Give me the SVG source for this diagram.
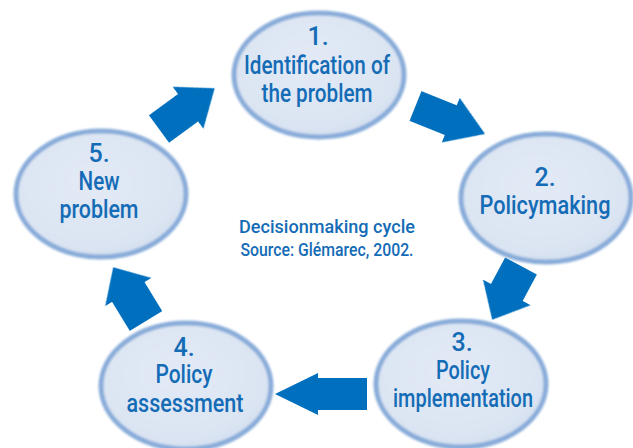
<svg xmlns="http://www.w3.org/2000/svg" width="633" height="448" viewBox="0 0 633 448">
<defs>
<filter id="soft" x="-20%" y="-20%" width="140%" height="140%"><feGaussianBlur stdDeviation="1.2"/></filter>
<filter id="softA" x="-20%" y="-20%" width="140%" height="140%"><feGaussianBlur stdDeviation="0.7"/></filter>
<radialGradient id="fillG" cx="0.45" cy="0.4" r="0.65">
<stop offset="0" stop-color="#e3eaf6"/>
<stop offset="0.8" stop-color="#dbe4f2"/>
<stop offset="1" stop-color="#cfdcef"/>
</radialGradient>
</defs>
<style>
.ring{fill:url(#fillG);stroke:#88acd9;stroke-width:5;filter:url(#soft)}
.lbl{font-family:Roboto,"Liberation Sans",sans-serif;font-weight:500;font-size:25px;fill:#146cb6;text-anchor:middle}
.cap{font-family:Roboto,"Liberation Sans",sans-serif;font-weight:500;font-size:18px;fill:#146cb6;text-anchor:middle}
.arr{fill:#0670be;filter:url(#softA)}
</style>
<rect width="633" height="448" fill="#ffffff"/>
<g id="connectors">
<path class="arr" transform="translate(159,129) rotate(-36.2)" d="M0,-17 L36,-17 L36,-26 L69,0 L36,26 L36,17 L0,17 Z"/>
<path class="arr" transform="translate(415.5,106) rotate(21.9)" d="M0,-16 L38,-16 L38,-24 L75,0 L38,24 L38,16 L0,16 Z"/>
<path class="arr" transform="translate(521,266) rotate(118.2)" d="M0,-18 L30,-18 L30,-27 L61,0 L30,27 L30,18 L0,18 Z"/>
<path class="arr" transform="translate(367,394) rotate(180)" d="M0,-16 L49,-16 L49,-21 L92,0 L49,21 L49,16 L0,16 Z"/>
<path class="arr" transform="translate(146,321) rotate(-121.4)" d="M0,-19 L34,-19 L34,-27 L63,0 L34,27 L34,19 L0,19 Z"/>
</g>
<g id="node1">
<ellipse class="ring" cx="319" cy="75" rx="85" ry="62"/>
<text class="lbl" x="318" y="45">1.</text>
<text class="lbl" x="317" y="74" textLength="146" lengthAdjust="spacingAndGlyphs">Identification of</text>
<text class="lbl" x="317" y="102" textLength="111" lengthAdjust="spacingAndGlyphs">the problem</text>
</g>
<g id="node2">
<ellipse class="ring" cx="546" cy="198" rx="85" ry="64"/>
<text class="lbl" x="545" y="186">2.</text>
<text class="lbl" x="545" y="214" textLength="131" lengthAdjust="spacingAndGlyphs">Policymaking</text>
</g>
<g id="node3">
<ellipse class="ring" cx="461" cy="384" rx="85" ry="63"/>
<text class="lbl" x="462" y="351">3.</text>
<text class="lbl" x="463" y="379" textLength="54" lengthAdjust="spacingAndGlyphs">Policy</text>
<text class="lbl" x="463" y="407" textLength="140" lengthAdjust="spacingAndGlyphs">implementation</text>
</g>
<g id="node4">
<ellipse class="ring" cx="186" cy="386" rx="85" ry="63"/>
<text class="lbl" x="184" y="356">4.</text>
<text class="lbl" x="184" y="383" textLength="57" lengthAdjust="spacingAndGlyphs">Policy</text>
<text class="lbl" x="185" y="412" textLength="117" lengthAdjust="spacingAndGlyphs">assessment</text>
</g>
<g id="node5">
<ellipse class="ring" cx="101" cy="194" rx="85" ry="63"/>
<text class="lbl" x="99" y="162">5.</text>
<text class="lbl" x="99" y="190" textLength="41" lengthAdjust="spacingAndGlyphs">New</text>
<text class="lbl" x="99" y="218" textLength="79" lengthAdjust="spacingAndGlyphs">problem</text>
</g>
<g id="caption">
<text class="cap" x="327" y="233" textLength="176" lengthAdjust="spacingAndGlyphs">Decisionmaking cycle</text>
<text class="cap" x="327" y="256" font-size="17" textLength="173" lengthAdjust="spacingAndGlyphs">Source: Glémarec, 2002.</text>
</g>
</svg>
